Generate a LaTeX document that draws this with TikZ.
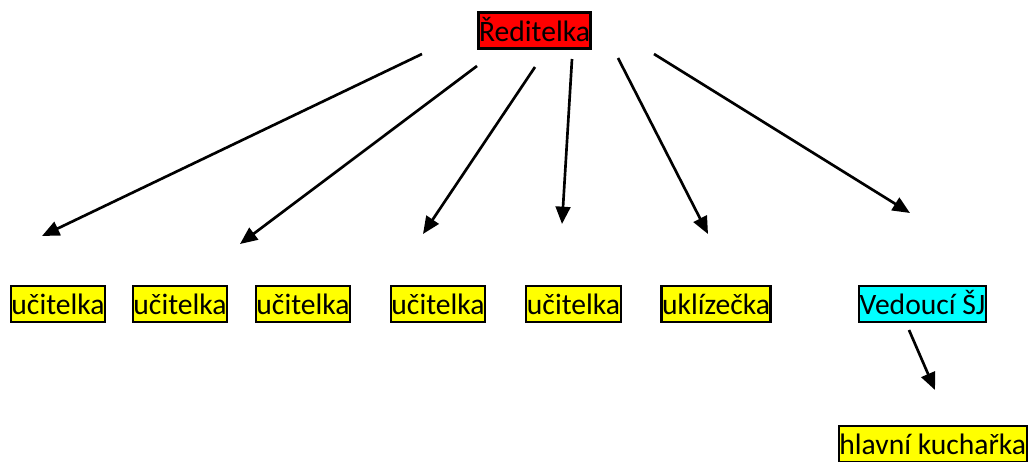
\documentclass[tikz,border=0pt]{standalone}
\usepackage{fontspec}
\setmainfont{Carlito}
\usetikzlibrary{arrows.meta}

\definecolor{boxyellow}{RGB}{255,255,0}
\definecolor{boxred}{RGB}{255,0,0}
\definecolor{boxcyan}{RGB}{0,255,255}

\tikzset{
    role/.style={draw, line width=1.8pt, fill=boxyellow, inner xsep=0.5pt, inner ysep=0pt,
        text height=21.5pt, text depth=5.5pt, font=\fontsize{22.2}{27}\selectfont},
    arr/.style={line width=2pt, -{Triangle[length=13pt, width=11pt]}}
}

\begin{document}
\begin{tikzpicture}[x=0.75pt, y=-0.75pt]
    \useasboundingbox (0,0) rectangle (1029,461);

    \node[role, fill=boxred] (boss) at (534.5,30.5) {Ředitelka};
    \node[role] (t1) at (58,304) {učitelka};
    \node[role] (t2) at (180,304) {učitelka};
    \node[role] (t3) at (303,304) {učitelka};
    \node[role] (t4) at (438,304) {učitelka};
    \node[role] (t5) at (573.5,304) {učitelka};
    \node[role] (clean) at (716,304) {uklízečka};
    \node[role, fill=boxcyan] (head) at (922.5,304) {Vedoucí ŠJ};
    \node[role, anchor=east] (cook) at (1028,444) {hlavní kuchařka};

    % free ends of the arrows
    \coordinate (s1) at (422,54);  \coordinate (e1) at (42,236);
    \coordinate (s2) at (477,66);  \coordinate (e2) at (240,244);
    \coordinate (s3) at (535,67);  \coordinate (e3) at (423,234);
    \coordinate (s4) at (572,59);  \coordinate (e4) at (562,224);
    \coordinate (s5) at (618,58);  \coordinate (e5) at (708,234);
    \coordinate (s6) at (654,54);  \coordinate (e6) at (910,213);
    \coordinate (s7) at (909,330); \coordinate (e7) at (935,390);

    \draw[arr] (s1) -- (e1);
    \draw[arr] (s2) -- (e2);
    \draw[arr] (s3) -- (e3);
    \draw[arr] (s4) -- (e4);
    \draw[arr] (s5) -- (e5);
    \draw[arr] (s6) -- (e6);
    \draw[arr] (s7) -- (e7);
\end{tikzpicture}
\end{document}
